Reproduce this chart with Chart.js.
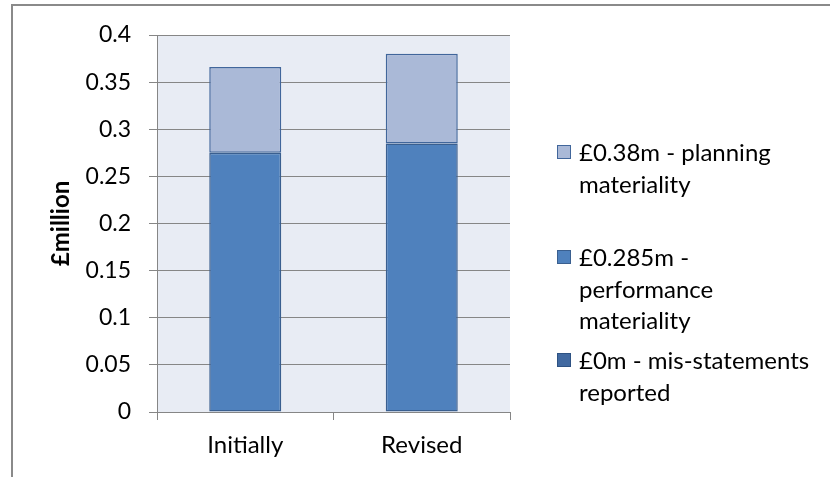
<!DOCTYPE html>
<html>
<head>
<meta charset="utf-8">
<script src="https://cdn.jsdelivr.net/npm/chart.js@4"></script>
<style>
  html, body { margin: 0; padding: 0; background: #fff; width: 830px; height: 477px; overflow: hidden; }
  #frame { position: absolute; left: 11px; top: 4px; width: 900px; height: 600px;
           border-left: 2px solid #8a8a8a; border-top: 2px solid #8a8a8a; box-sizing: border-box; }
  #c { position: absolute; left: 0; top: 0; }
  .lg { position: absolute; left: 557px; font-family: Lato, "Open Sans", sans-serif; font-size: 24px;
        line-height: 31.5px; color: #000; }
  .lg .box { position: absolute; left: 0; top: 9px; width: 14px; height: 14px; box-sizing: border-box; }
  .lg .txt { position: absolute; left: 22px; top: 0; white-space: nowrap; }
</style>
</head>
<body>
<div id="frame"></div>
<canvas id="c" width="830" height="477"></canvas>
<div id="legend"></div>
<script>
// ---- data ----
const categories = ['Initially', 'Revised'];
const misstatements = [0, 0];
const performanceMateriality = [0.275, 0.285];
const planningMaterialityExtra = [0.091, 0.095];
const seriesNames = [
  ['£0m - mis-statements', 'reported'],
  ['£0.285m -', 'performance', 'materiality'],
  ['£0.38m - planning', 'materiality']
];
const yTickLabels = ['0', '0.05', '0.1', '0.15', '0.2', '0.25', '0.3', '0.35', '0.4'];
const yTitle = '£million';

// ---- styles ----
const FONT = 'Lato, "Open Sans", sans-serif';
const fills = ['#4169A0', '#4F81BD', '#AAB9D7'];
const borders = ['#2E5283', '#3A5F8F', '#41669B'];
const legendTops = [136, 241, 344];

const plotBg = {
  id: 'plotBg',
  beforeDraw(chart) {
    const a = chart.chartArea, ctx = chart.ctx;
    ctx.save();
    ctx.fillStyle = '#E8ECF4';
    ctx.fillRect(a.left, a.top, a.right - a.left, a.bottom - a.top);
    ctx.restore();
  }
};

const seriesData = [misstatements, performanceMateriality, planningMaterialityExtra];

new Chart(document.getElementById('c'), {
  type: 'bar',
  data: {
    labels: categories,
    datasets: seriesData.map((d, i) => ({
      label: seriesNames[i].join(' '),
      data: d,
      backgroundColor: fills[i],
      borderColor: borders[i],
      borderWidth: d.every(v => v === 0) ? 0 : 1.5,
      borderSkipped: false,
      categoryPercentage: 1,
      barPercentage: 0.408
    }))
  },
  options: {
    responsive: false,
    devicePixelRatio: 1,
    animation: false,
    layout: { padding: { top: 35, right: 320, left: 0, bottom: 0 } },
    plugins: { legend: { display: false }, tooltip: { enabled: false } },
    scales: {
      x: {
        stacked: true,
        grid: { display: true, drawOnChartArea: false, drawTicks: true, tickLength: 8, offset: true,
                color: '#868686', lineWidth: 1 },
        border: { display: true, color: '#868686', width: 1 },
        ticks: { color: '#000', font: { family: FONT, size: 24 }, padding: 11 },
        afterFit(scale) { scale.height = 65; }
      },
      y: {
        stacked: true,
        min: 0, max: 0.4,
        grid: { color: '#868686', lineWidth: 1, drawTicks: true, tickLength: 8 },
        border: { display: true, color: '#868686', width: 1 },
        ticks: {
          stepSize: 0.05, color: '#000', font: { family: FONT, size: 23 }, padding: 18,
          callback: (v, i) => yTickLabels[i]
        },
        title: { display: true, text: yTitle, color: '#000',
                 font: { family: FONT, size: 24, weight: 'bold' }, padding: { top: 47, bottom: 0 } },
        afterFit(scale) { scale.width = 157; }
      }
    }
  },
  plugins: [plotBg]
});

// HTML legend (reverse order, top = planning)
const lg = document.getElementById('legend');
[2, 1, 0].forEach((si, k) => {
  const item = document.createElement('div');
  item.className = 'lg';
  item.style.top = legendTops[k] + 'px';
  const box = document.createElement('div');
  box.className = 'box';
  box.style.background = fills[si];
  box.style.border = '1.5px solid ' + borders[si];
  const txt = document.createElement('div');
  txt.className = 'txt';
  txt.innerHTML = seriesNames[si].map(s => s.replace(/&/g, '&amp;').replace(/</g, '&lt;')).join('<br>');
  item.appendChild(box);
  item.appendChild(txt);
  lg.appendChild(item);
});
</script>
</body>
</html>
